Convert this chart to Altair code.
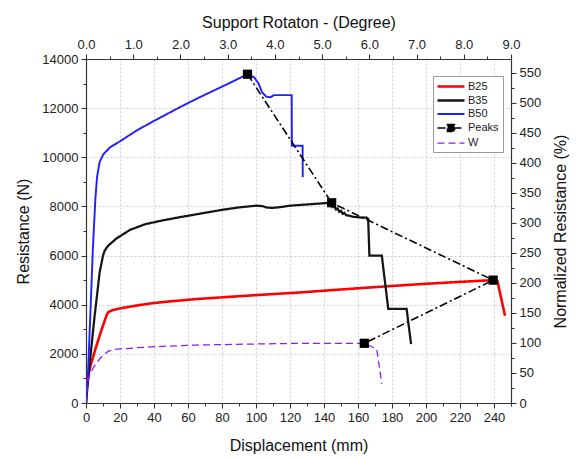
import altair as alt
import pandas as pd

# ---------------- data ----------------
b25_x = [0, 0.4, 3, 6, 9, 12, 13, 15, 20, 30, 40, 50, 65, 80, 100, 126, 150, 175, 197, 220, 239.5, 242, 246.5]
b25_y = [0, 900, 1600, 2300, 2950, 3550, 3690, 3760, 3850, 3970, 4070, 4140, 4230, 4300, 4390, 4500, 4620, 4740, 4840, 4930, 5000, 4960, 3550]

b35_x = [0, 2, 5, 8, 10, 11, 13, 18, 26, 35, 45, 55, 65, 80, 90, 100, 104, 106, 109, 113, 120, 130, 140, 144.5,
         145, 146, 147, 148, 149, 150, 151, 152, 153, 155, 157, 160, 163, 165, 166, 166.7, 174, 177.8, 188.6, 191.2]
b35_y = [0, 1500, 3500, 5300, 6000, 6200, 6400, 6700, 7050, 7280, 7430, 7560, 7680, 7860, 7960, 8030, 8010, 7960, 7940, 7960, 8030, 8080, 8130, 8150,
         7980, 8020, 7880, 7920, 7780, 7820, 7700, 7740, 7640, 7620, 7580, 7560, 7540, 7550, 7490, 6000, 6000, 3830, 3830, 2400]

b50_x = [0, 1, 2.5, 4, 5.5, 6.5, 8, 10, 14, 20, 30, 40, 55, 65, 75, 85, 95,
         99, 101.5, 103.5, 106, 108.5, 110.5, 121, 121.1, 127.4, 127.5]
b50_y = [0, 900, 3500, 6200, 8300, 9200, 9800, 10100, 10400, 10650, 11100, 11480, 12030, 12380, 12710, 13040, 13380,
         13250, 13000, 12650, 12470, 12440, 12530, 12530, 10470, 10470, 9190]

peaks_x = [95, 144.5, 239.5, 163.7]
peaks_y = [13380, 8150, 5000, 2430]

w_x = [0, 0.5, 2, 4, 7, 10, 13, 16, 20, 30, 40, 65, 100, 126, 150, 163.7, 171, 174]
w_y = [0, 700, 1100, 1400, 1700, 1950, 2100, 2170, 2200, 2250, 2290, 2360, 2400, 2430, 2430, 2430, 2200, 780]

series_names = ["B25", "B35", "B50", "Peaks", "W"]
series_colors = ["#ff0000", "#151515", "#1f1fff", "#000000", "#8a1aff"]
series_dash = [[1, 0], [1, 0], [1, 0], [8, 3, 2, 3], [7, 4]]
series_width = [2.6, 1.25, 1.5, 1.4, 1.5]

# legend glyphs: a line, and for Peaks a line with a square on it
LINE_PATH = "M-2.7,0L2.7,0"
PEAK_PATH = "M-2.7,0L2.7,0M-0.7,-0.7L0.7,-0.7L0.7,0.7L-0.7,0.7Z"
series_shape = [LINE_PATH, LINE_PATH, LINE_PATH, PEAK_PATH, LINE_PATH]

x_major = list(range(0, 241, 20))
x_minor = list(range(0, 251, 10))
y_major = list(range(0, 14001, 2000))
y_minor = list(range(0, 14001, 1000))
deg_major = [float(v) for v in range(0, 10)]
deg_minor = [v / 2 for v in range(0, 19)]
pct_major = list(range(0, 551, 50))
pct_minor = list(range(0, 551, 25))

# ---------------- tables ----------------
rows = []
for name, xs, ys in [("B25", b25_x, b25_y), ("B35", b35_x, b35_y), ("B50", b50_x, b50_y),
                     ("Peaks", peaks_x, peaks_y), ("W", w_x, w_y)]:
    for i, (xv, yv) in enumerate(zip(xs, ys)):
        rows.append({"series": name, "x": xv, "y": yv, "i": i})
df = pd.DataFrame(rows)
peaks_df = df[df["series"] == "Peaks"]

FONT = "Liberation Sans"
AX = "#333333"

x_scale = alt.Scale(domain=[0, 250], nice=False, zero=False)
y_scale = alt.Scale(domain=[0, 14000], nice=False, zero=False)
deg_scale = alt.Scale(domain=[0, 9], nice=False, zero=False)
pct_scale = alt.Scale(domain=[0, 573], nice=False, zero=False)

legend = alt.Legend(title=None, orient="none", legendX=347, legendY=17,
                    strokeColor="#999999", fillColor="white", padding=4,
                    labelFont=FONT, labelFontSize=11, labelColor="#222",
                    symbolSize=100, symbolStrokeWidth=1.7, rowPadding=2,
                    symbolOffset=7.5, labelOffset=10.5)

color_enc = alt.Color("series:N", scale=alt.Scale(domain=series_names, range=series_colors), legend=legend)
dash_enc = alt.StrokeDash("series:N", scale=alt.Scale(domain=series_names, range=series_dash), legend=legend)

base_axis = dict(domainColor=AX, domainWidth=1.2, tickColor=AX, tickWidth=1.1,
                 labelFont=FONT, labelFontSize=13, labelColor="#222", labelOverlap=False,
                 labelFlush=False,
                 titleFont=FONT, titleFontSize=16, titleFontWeight="normal", titleColor="#111")

x_axis_main = alt.Axis(orient="bottom", values=x_major, title="Displacement (mm)", tickSize=5, format="d",
                       labelPadding=3, titlePadding=13, grid=True, gridColor="#c8c8c8",
                       gridDash=[2, 2], gridWidth=0.9, **base_axis)
y_axis_main = alt.Axis(orient="left", values=y_major, title="Resistance (N)", tickSize=5, format="d",
                       labelPadding=3, titlePadding=10, grid=True, gridColor="#c8c8c8",
                       gridDash=[2, 2], gridWidth=0.9, **base_axis)
x_enc = alt.X("x:Q", scale=x_scale, axis=x_axis_main)
y_enc = alt.Y("y:Q", scale=y_scale, axis=y_axis_main)

lines = alt.Chart(df).mark_line(clip=True).encode(
    x=x_enc,
    y=y_enc,
    color=color_enc,
    strokeDash=dash_enc,
    strokeWidth=alt.StrokeWidth("series:N", scale=alt.Scale(domain=series_names, range=series_width), legend=None),
    order=alt.Order("i:Q"),
    detail="series:N",
)

points = alt.Chart(peaks_df).mark_square(filled=True, size=85, opacity=1).encode(
    x=x_enc,
    y=y_enc,
    color=color_enc,
)

# legend-only layer: supplies the glyph shapes for the merged legend, draws nothing
legend_glyphs = alt.Chart(peaks_df).mark_point(filled=True).encode(
    x=x_enc,
    y=y_enc,
    color=color_enc,
    shape=alt.Shape("series:N", scale=alt.Scale(domain=series_names, range=series_shape), legend=legend),
).transform_filter("false")

main = alt.layer(lines, points, legend_glyphs)

dummy = pd.DataFrame({"a": [0], "b": [0]})
minor_axis = dict(labels=False, domain=False, tickSize=3, grid=False, title=None,
                  tickColor=AX, tickWidth=1.0)

minor_bl = alt.Chart(dummy).mark_point(opacity=0).encode(
    x=alt.X("a:Q", scale=x_scale, axis=alt.Axis(orient="bottom", values=x_minor, **minor_axis)),
    y=alt.Y("b:Q", scale=y_scale, axis=alt.Axis(orient="left", values=y_minor, **minor_axis)),
)

major_tr = alt.Chart(dummy).mark_point(opacity=0).encode(
    x=alt.X("a:Q", scale=deg_scale,
            axis=alt.Axis(orient="top", values=deg_major, format=".1f", title="Support Rotaton - (Degree)",
                          tickSize=5, labelPadding=3, titlePadding=8, grid=False, **base_axis)),
    y=alt.Y("b:Q", scale=pct_scale,
            axis=alt.Axis(orient="right", values=pct_major, title="Normalized Resistance (%)", format="d",
                          titleAngle=270, titleBaseline="top", tickSize=5, labelPadding=3, titlePadding=12,
                          grid=False, **base_axis)),
)

minor_tr = alt.Chart(dummy).mark_point(opacity=0).encode(
    x=alt.X("a:Q", scale=deg_scale, axis=alt.Axis(orient="top", values=deg_minor, **minor_axis)),
    y=alt.Y("b:Q", scale=pct_scale, axis=alt.Axis(orient="right", values=pct_minor, **minor_axis)),
)

chart = alt.layer(main, minor_bl, major_tr, minor_tr).resolve_scale(
    x="independent", y="independent"
).properties(
    width=425, height=344,
    padding={"left": 15, "top": 14, "right": 2, "bottom": 2},
    background="white",
).configure_view(stroke=None)

chart.save("out.html", embed_options={"renderer": "svg", "actions": False})
